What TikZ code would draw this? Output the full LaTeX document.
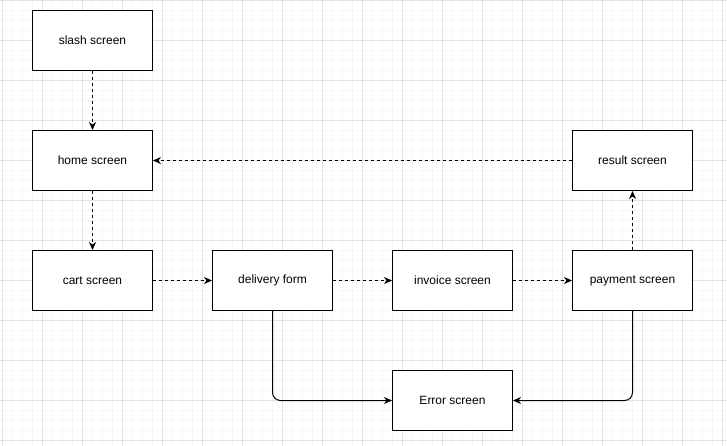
\documentclass[tikz,border=0pt]{standalone}
\usepackage{fontspec}
\setmainfont{Liberation Sans}
\usetikzlibrary{arrows.meta}
\definecolor{minorgrid}{HTML}{F5F5F5}
\definecolor{majorgrid}{HTML}{E2E2E2}
\tikzset{
  screenbox/.style={draw=black, fill=white, line width=1pt, minimum width=120pt, minimum height=60pt, inner sep=0pt, font=\fontsize{12pt}{14pt}\selectfont},
  flowdash/.style={draw=black, line width=1pt, dash pattern=on 3pt off 3pt, -{Stealth[length=8pt,width=7pt,inset=2.5pt]}},
  flowsolid/.style={draw=black, line width=1pt, rounded corners=8pt, -{Stealth[length=8pt,width=7pt,inset=2.5pt]}}
}
\begin{document}
\begin{tikzpicture}[x=1pt,y=-1pt]
\useasboundingbox (0,0) rectangle (727,446);
\fill[white] (0,0) rectangle (727,446);
% minor grid
\foreach \gx in {2,12,...,722} \draw[minorgrid, line width=0.6pt] (\gx,0) -- (\gx,446);
\foreach \gy in {0,10,...,440} \draw[minorgrid, line width=0.6pt] (0,\gy+0.7) -- (727,\gy+0.7);
% major grid
\foreach \gx in {2,42,...,722} \draw[majorgrid, line width=0.8pt] (\gx,0) -- (\gx,446);
\foreach \gy in {0,40,...,440} \draw[majorgrid, line width=0.8pt] (0,\gy+0.7) -- (727,\gy+0.7);

\node[screenbox] (slash) at (92.5,40.5) {slash screen};
\node[screenbox] (home) at (92.5,160.5) {home screen};
\node[screenbox] (cart) at (92.5,280.5) {cart screen};
\node[screenbox] (delivery) at (272.5,280.5) {delivery form};
\node[screenbox] (invoice) at (452.5,280.5) {invoice screen};
\node[screenbox] (payment) at (632.5,280.5) {payment screen};
\node[screenbox] (result) at (632.5,160.5) {result screen};
\node[screenbox] (error) at (452.5,400.5) {Error screen};

\draw[flowdash] (slash) -- (home);
\draw[flowdash] (home) -- (cart);
\draw[flowdash] (cart) -- (delivery);
\draw[flowdash] (delivery) -- (invoice);
\draw[flowdash] (invoice) -- (payment);
\draw[flowdash] (payment) -- (result);
\draw[flowdash] (result) -- (home);
\draw[flowsolid] (delivery.south) |- (error.west);
\draw[flowsolid] (payment.south) |- (error.east);
\end{tikzpicture}
\end{document}
